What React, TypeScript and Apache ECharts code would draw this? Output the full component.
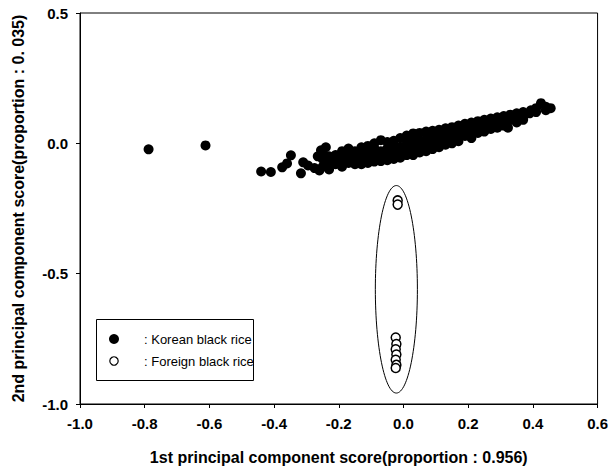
import React, { useEffect, useRef } from "react";
import * as echarts from "echarts";

const xTickLabels = ["-1.0", "-0.8", "-0.6", "-0.4", "-0.2", "0.0", "0.2", "0.4", "0.6"];
const yTickLabels = ["-1.0", "-0.5", "0.0", "0.5"];

const koreanOutliers: number[][] = [
  [-0.788, -0.023],
  [-0.612, -0.008],
];

const koreanTail: number[][] = [
  [-0.44, -0.108], [-0.41, -0.11], [-0.375, -0.092], [-0.36, -0.077], [-0.348, -0.046],
  [-0.317, -0.115], [-0.31, -0.073], [-0.295, -0.085], [-0.275, -0.095], [-0.26, -0.104],
  [-0.255, -0.027], [-0.24, -0.015], [-0.245, -0.06], [-0.265, -0.05],
];

const koreanBand: number[][] = [
  [-0.25, -0.06], [-0.25, -0.09], [-0.25, -0.035],
  [-0.23, -0.07], [-0.23, -0.05], [-0.23, -0.1],
  [-0.21, -0.045], [-0.21, -0.08], [-0.21, -0.065],
  [-0.19, -0.055], [-0.19, -0.09], [-0.19, -0.03], [-0.19, -0.07],
  [-0.17, -0.04], [-0.17, -0.075], [-0.17, -0.06], [-0.17, -0.02],
  [-0.15, -0.05], [-0.15, -0.03], [-0.15, -0.08], [-0.15, -0.065],
  [-0.13, -0.045], [-0.13, -0.07], [-0.13, -0.015], [-0.13, -0.08],
  [-0.11, -0.035], [-0.11, -0.06], [-0.11, -0.075], [-0.11, -0.01],
  [-0.09, -0.05], [-0.09, -0.02], [-0.09, -0.07], [-0.09, 0.0],
  [-0.07, -0.03], [-0.07, -0.06], [-0.07, 0.012], [-0.07, -0.045], [-0.07, -0.068],
  [-0.05, -0.02], [-0.05, -0.05], [-0.05, -0.035], [-0.05, 0.005], [-0.05, -0.065],
  [-0.03, -0.025], [-0.03, -0.045], [-0.03, 0.01], [-0.03, -0.06], [-0.03, -0.01],
  [-0.01, -0.015], [-0.01, -0.04], [-0.01, 0.02], [-0.01, -0.055], [-0.01, -0.03],
  [0.01, -0.005], [0.01, -0.03], [0.01, 0.03], [0.01, -0.045], [0.01, 0.01],
  [0.03, 0.0], [0.03, -0.025], [0.03, 0.038], [0.03, -0.045], [0.03, 0.015],
  [0.05, 0.01], [0.05, -0.015], [0.05, 0.04], [0.05, -0.035],
  [0.07, 0.015], [0.07, -0.01], [0.07, 0.045], [0.07, -0.03], [0.07, 0.0],
  [0.09, 0.02], [0.09, 0.0], [0.09, 0.048], [0.09, -0.022],
  [0.11, 0.025], [0.11, 0.005], [0.11, 0.052], [0.11, -0.015],
  [0.13, 0.03], [0.13, 0.01], [0.13, 0.058], [0.13, -0.005],
  [0.15, 0.04], [0.15, 0.015], [0.15, 0.062], [0.15, 0.0],
  [0.17, 0.045], [0.17, 0.02], [0.17, 0.068], [0.17, 0.008],
  [0.19, 0.05], [0.19, 0.075], [0.19, 0.028],
  [0.21, 0.055], [0.21, 0.08], [0.21, 0.035], [0.21, 0.02],
  [0.23, 0.06], [0.23, 0.085], [0.23, 0.04],
  [0.25, 0.07], [0.25, 0.09], [0.25, 0.045],
  [0.27, 0.075], [0.27, 0.055], [0.27, 0.095],
  [0.29, 0.08], [0.29, 0.1], [0.29, 0.06],
  [0.31, 0.085], [0.31, 0.068], [0.31, 0.105],
  [0.323, 0.06], [0.33, 0.09], [0.33, 0.11],
  [0.35, 0.1], [0.35, 0.115], [0.35, 0.08],
  [0.37, 0.105], [0.37, 0.12], [0.37, 0.09],
  [0.39, 0.115], [0.394, 0.127],
  [0.41, 0.12], [0.41, 0.135],
  [0.425, 0.154], [0.44, 0.127], [0.44, 0.14], [0.455, 0.135],
];

const koreanCore: number[][] = [
  [-0.2, -0.055], [-0.18, -0.045], [-0.16, -0.055], [-0.14, -0.04], [-0.12, -0.05],
  [-0.1, -0.045], [-0.08, -0.035], [-0.06, -0.045], [-0.04, -0.03], [-0.02, -0.02],
  [0.0, -0.02], [0.02, -0.015], [0.04, -0.01], [0.06, 0.0], [0.08, 0.01],
  [0.1, 0.015], [0.12, 0.02], [0.14, 0.025], [0.16, 0.03], [0.18, 0.04],
  [0.2, 0.045], [0.22, 0.05],
];

const foreignPoints: number[][] = [
  [-0.018, -0.219], [-0.018, -0.235],
  [-0.024, -0.745], [-0.022, -0.77], [-0.024, -0.79], [-0.022, -0.81],
  [-0.024, -0.83], [-0.022, -0.85], [-0.024, -0.862],
];

// ellipse: center x, center y, radius x, radius y (data units)
const groupEllipse: number[][] = [[-0.022, -0.56, 0.065, 0.398]];

const FONT = "'Liberation Sans', Arial, Helvetica, sans-serif";

export default function App() {
  const ref = useRef<HTMLDivElement>(null);
  useEffect(() => {
    if (!ref.current) return;
    const chart = echarts.init(ref.current, undefined, { renderer: "svg" });
    const korean = [...koreanOutliers, ...koreanTail, ...koreanBand, ...koreanCore];
    chart.setOption({
      animation: false,
      backgroundColor: "#fff",
      grid: {
        left: 80,
        right: 11,
        top: 13,
        bottom: 68,
        show: true,
        borderColor: "#000",
        borderWidth: 1,
        backgroundColor: "transparent",
      },
      xAxis: {
        type: "value",
        min: -1.0,
        max: 0.6,
        interval: 0.2,
        name: "1st principal component score(proportion : 0.956)",
        nameLocation: "middle",
        nameGap: 45,
        nameTextStyle: { fontFamily: FONT, fontSize: 16, fontWeight: "bold", color: "#000" },
        axisLine: { show: true, onZero: false, lineStyle: { color: "#000", width: 1 } },
        axisTick: { show: true, inside: false, length: 4, lineStyle: { color: "#000" } },
        axisLabel: {
          color: "#000",
          fontFamily: FONT,
          fontSize: 15,
          fontWeight: "bold",
          margin: 12,
          formatter: (v: number) => {
            const idx = Math.round((v + 1.0) / 0.2);
            return xTickLabels[idx] ?? v.toFixed(1);
          },
        },
        splitLine: { show: false },
      },
      yAxis: {
        type: "value",
        min: -1.0,
        max: 0.5,
        interval: 0.5,
        name: "2nd principal component score(proportion : 0. 035)",
        nameLocation: "middle",
        nameGap: 54,
        nameTextStyle: { fontFamily: FONT, fontSize: 16, fontWeight: "bold", color: "#000" },
        axisLine: { show: true, onZero: false, lineStyle: { color: "#000", width: 1 } },
        axisTick: { show: true, inside: false, length: 4, lineStyle: { color: "#000" } },
        axisLabel: {
          color: "#000",
          fontFamily: FONT,
          fontSize: 15,
          fontWeight: "bold",
          margin: 12,
          formatter: (v: number) => {
            const idx = Math.round((v + 1.0) / 0.5);
            return yTickLabels[idx] ?? v.toFixed(1);
          },
        },
        splitLine: { show: false },
      },
      series: [
        {
          name: "Korean black rice",
          type: "scatter",
          data: korean,
          symbol: "circle",
          symbolSize: 10,
          itemStyle: { color: "#000", opacity: 1 },
          z: 3,
        },
        {
          name: "Foreign black rice",
          type: "scatter",
          data: foreignPoints,
          symbol: "circle",
          symbolSize: 9,
          itemStyle: { color: "#fff", borderColor: "#000", borderWidth: 1.5, opacity: 1 },
          z: 4,
        },
        {
          type: "custom",
          data: groupEllipse,
          silent: true,
          z: 2,
          renderItem: (params: any, api: any) => {
            const c = api.coord([api.value(0), api.value(1)]);
            const s = api.size([api.value(2), api.value(3)]);
            return {
              type: "ellipse",
              shape: { cx: c[0], cy: c[1], rx: s[0], ry: s[1] },
              style: { fill: "none", stroke: "#000", lineWidth: 1 },
            };
          },
        },
      ],
      graphic: [
        {
          type: "group",
          z: 100,
          children: [
            {
              type: "rect",
              shape: { x: 96.5, y: 319.5, width: 157, height: 61 },
              style: { fill: "#fff", stroke: "#000", lineWidth: 1 },
            },
            {
              type: "circle",
              shape: { cx: 114, cy: 339, r: 5 },
              style: { fill: "#000" },
            },
            {
              type: "circle",
              shape: { cx: 114, cy: 361, r: 4.2 },
              style: { fill: "#fff", stroke: "#000", lineWidth: 1.2 },
            },
            {
              type: "text",
              x: 144,
              y: 339,
              style: {
                text: ": Korean black rice",
                font: `13px ${FONT}`,
                fill: "#000",
                verticalAlign: "middle",
              },
            },
            {
              type: "text",
              x: 144,
              y: 361,
              style: {
                text: ": Foreign black rice",
                font: `13px ${FONT}`,
                fill: "#000",
                verticalAlign: "middle",
              },
            },
          ],
        },
      ],
    });
    return () => chart.dispose();
  }, []);
  return (
    <div
      ref={ref}
      style={{ position: "fixed", left: 0, top: 0, width: 611, height: 472 }}
    />
  );
}
